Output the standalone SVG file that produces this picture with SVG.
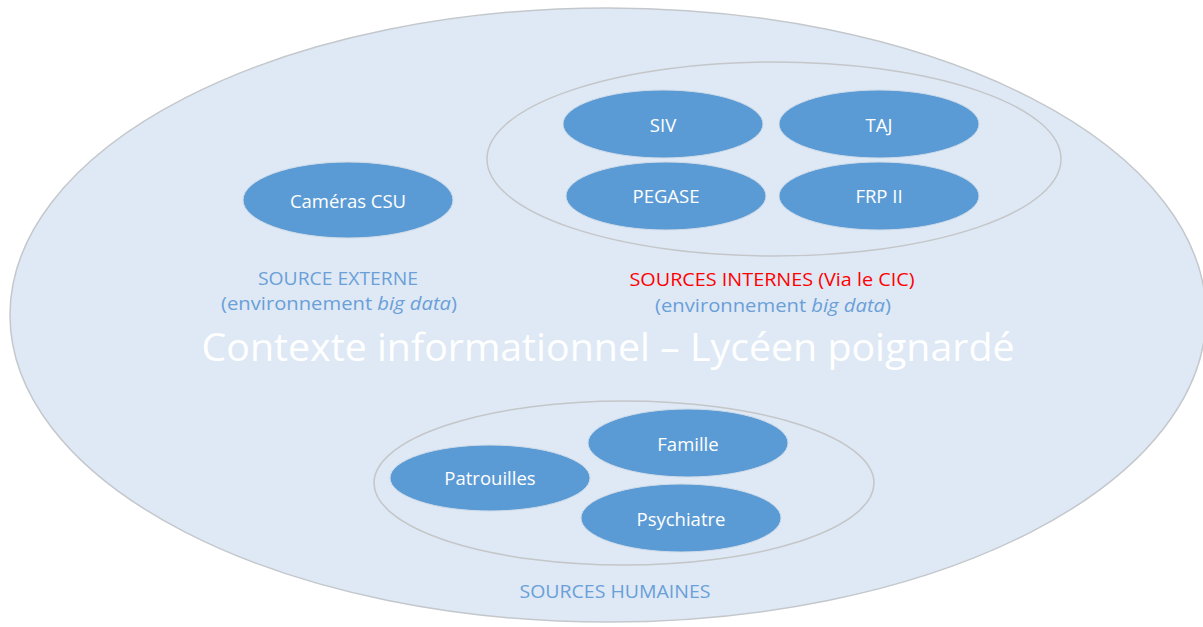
<svg xmlns="http://www.w3.org/2000/svg" width="1203" height="627" viewBox="0 0 1203 627">
<style>
.bg{fill:#dee9f5;stroke:#c4c8cc;stroke-width:1.5}
.grp{fill:none;stroke:#c4c6c8;stroke-width:1.5}
.node{fill:#5b9bd5;stroke:#cfdbe8;stroke-width:1}
.lbl{font-family:"Open Sans","Liberation Sans",sans-serif;font-size:18.5px;fill:#ffffff;text-anchor:middle;dominant-baseline:central}
.cap{font-family:"Open Sans","Liberation Sans",sans-serif;font-size:18px;fill:#6a9fd8;text-anchor:middle}
.red{fill:#ff0000}
.title{font-family:"Open Sans","Liberation Sans",sans-serif;font-size:38px;fill:#ffffff;text-anchor:middle}
</style>
<rect width="1203" height="627" fill="#ffffff"/>
<ellipse class="bg" cx="608" cy="315" rx="598" ry="307"/>
<ellipse class="grp" cx="774" cy="159" rx="287" ry="97"/>
<ellipse class="grp" cx="624" cy="483" rx="250" ry="82"/>
<g id="connectors"></g>
<g id="cameras"><ellipse class="node" cx="348" cy="200" rx="105" ry="38"/><text class="lbl" x="348" y="200">Caméras CSU</text></g>
<g id="siv"><ellipse class="node" cx="663" cy="124" rx="100" ry="34"/><text class="lbl" x="663" y="124">SIV</text></g>
<g id="taj"><ellipse class="node" cx="879" cy="124" rx="100" ry="34"/><text class="lbl" x="879" y="124">TAJ</text></g>
<g id="pegase"><ellipse class="node" cx="666" cy="196" rx="100" ry="34"/><text class="lbl" x="666" y="195">PEGASE</text></g>
<g id="frp"><ellipse class="node" cx="879" cy="196" rx="100" ry="34"/><text class="lbl" x="879" y="195">FRP II</text></g>
<g id="patrouilles"><ellipse class="node" cx="490" cy="478" rx="100" ry="33"/><text class="lbl" x="490" y="477">Patrouilles</text></g>
<g id="famille"><ellipse class="node" cx="688" cy="443" rx="100" ry="34"/><text class="lbl" x="688" y="443">Famille</text></g>
<g id="psychiatre"><ellipse class="node" cx="681" cy="518" rx="100" ry="34"/><text class="lbl" x="681" y="518">Psychiatre</text></g>
<g id="labels">
<text class="cap" x="338" y="285" textLength="160" lengthAdjust="spacingAndGlyphs">SOURCE EXTERNE</text>
<text class="cap" x="339" y="310" textLength="236" lengthAdjust="spacingAndGlyphs">(environnement <tspan font-style="italic">big data</tspan>)</text>
<text class="cap red" x="772" y="286" textLength="285" lengthAdjust="spacingAndGlyphs">SOURCES INTERNES (Via le CIC)</text>
<text class="cap" x="773" y="312" textLength="236" lengthAdjust="spacingAndGlyphs">(environnement <tspan font-style="italic">big data</tspan>)</text>
<text class="title" x="608" y="361" textLength="813" lengthAdjust="spacingAndGlyphs">Contexte informationnel – Lycéen poignardé</text>
<text class="cap" x="615" y="598" textLength="191" lengthAdjust="spacingAndGlyphs">SOURCES HUMAINES</text>
</g>
</svg>
